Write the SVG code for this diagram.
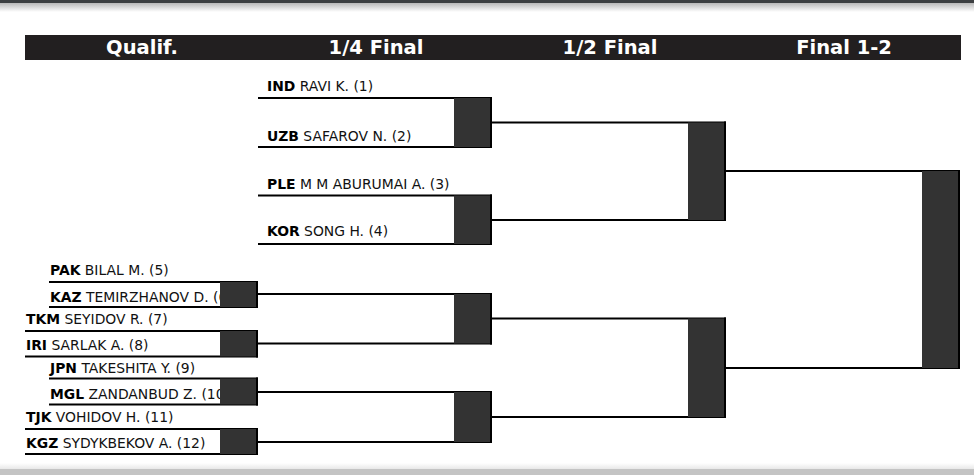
<svg xmlns="http://www.w3.org/2000/svg" width="974" height="475" viewBox="0 0 974 475">
<defs>
<linearGradient id="topShade" x1="0" y1="0" x2="0" y2="1">
<stop offset="0" stop-color="#b8b8b8"/>
<stop offset="1" stop-color="#ffffff"/>
</linearGradient>
<linearGradient id="botShade" x1="0" y1="0" x2="0" y2="1">
<stop offset="0" stop-color="#ffffff"/>
<stop offset="1" stop-color="#e8e8e8"/>
</linearGradient>
</defs>
<style>
.hdr{font-family:"DejaVu Sans",sans-serif;font-weight:bold;font-size:19.5px;fill:#ffffff;text-anchor:middle}
.nm{font-family:"DejaVu Sans",sans-serif;font-size:13.9px;fill:#111111}
.cc{font-weight:bold;fill:#000000}
.ln{stroke:#000000;stroke-width:2;fill:none}
.bx{fill:#333333}
</style>
<rect x="0" y="0" width="974" height="475" fill="#ffffff"/>
<rect x="0" y="0" width="974" height="3" fill="#3c3f41"/>
<rect x="0" y="3" width="974" height="9" fill="url(#topShade)"/>
<rect x="0" y="463" width="974" height="6" fill="url(#botShade)"/>
<rect x="0" y="469" width="974" height="6" fill="#c4c4c4"/>
<g id="header">
<rect x="25" y="35" width="936" height="25" fill="#221f20"/>
<text class="hdr" x="142" y="54">Qualif.</text>
<text class="hdr" x="376" y="54">1/4 Final</text>
<text class="hdr" x="610" y="54">1/2 Final</text>
<text class="hdr" x="844" y="54">Final 1-2</text>
</g>
<g id="labels">
<text class="nm" x="267" y="91"><tspan class="cc">IND</tspan> RAVI K. (1)</text>
<text class="nm" x="267" y="141"><tspan class="cc">UZB</tspan> SAFAROV N. (2)</text>
<text class="nm" x="267" y="188.5"><tspan class="cc">PLE</tspan> M M ABURUMAI A. (3)</text>
<text class="nm" x="267" y="236"><tspan class="cc">KOR</tspan> SONG H. (4)</text>
<text class="nm" x="50" y="275"><tspan class="cc">PAK</tspan> BILAL M. (5)</text>
<text class="nm" x="50" y="301.5"><tspan class="cc">KAZ</tspan> TEMIRZHANOV D. (6)</text>
<text class="nm" x="26" y="324"><tspan class="cc">TKM</tspan> SEYIDOV R. (7)</text>
<text class="nm" x="26" y="350"><tspan class="cc">IRI</tspan> SARLAK A. (8)</text>
<text class="nm" x="50" y="372.5"><tspan class="cc">JPN</tspan> TAKESHITA Y. (9)</text>
<text class="nm" x="50" y="399"><tspan class="cc">MGL</tspan> ZANDANBUD Z. (10)</text>
<text class="nm" x="26" y="421.5"><tspan class="cc">TJK</tspan> VOHIDOV H. (11)</text>
<text class="nm" x="26" y="448"><tspan class="cc">KGZ</tspan> SYDYKBEKOV A. (12)</text>
</g>
<g id="connectors">
<path class="ln" d="M258 98H492M258 147H492"/>
<path class="ln" d="M258 195.5H492M258 244H492"/>
<path class="ln" d="M49 282H258M49 307H258"/>
<path class="ln" d="M25 331H258M25 356.5H258"/>
<path class="ln" d="M49 378.5H258M49 404.5H258"/>
<path class="ln" d="M25 429H258M25 454H258"/>
<path class="ln" d="M258 294H492M258 343.5H492"/>
<path class="ln" d="M258 392H492M258 442H492"/>
<path class="ln" d="M492 122.5H726M492 220H726"/>
<path class="ln" d="M492 318.5H726M492 417H726"/>
<path class="ln" d="M726 171H960M726 368H960"/>
</g>
<g id="q1"><rect class="bx" x="220" y="282" width="37" height="25"/><path class="ln" d="M257 281V308"/></g>
<g id="q2"><rect class="bx" x="220" y="331" width="37" height="25.5"/><path class="ln" d="M257 330V357.5"/></g>
<g id="q3"><rect class="bx" x="220" y="378.5" width="37" height="26"/><path class="ln" d="M257 377.5V405.5"/></g>
<g id="q4"><rect class="bx" x="220" y="429" width="37" height="25"/><path class="ln" d="M257 428V455"/></g>
<g id="qf1"><rect class="bx" x="454" y="98" width="37" height="49"/><path class="ln" d="M491 97V148"/></g>
<g id="qf2"><rect class="bx" x="454" y="195.5" width="37" height="48.5"/><path class="ln" d="M491 194.5V245"/></g>
<g id="qf3"><rect class="bx" x="454" y="294" width="37" height="49.5"/><path class="ln" d="M491 293V344.5"/></g>
<g id="qf4"><rect class="bx" x="454" y="392" width="37" height="50"/><path class="ln" d="M491 391V443"/></g>
<g id="sf1"><rect class="bx" x="688" y="122.5" width="37" height="97.5"/><path class="ln" d="M725 121.5V221"/></g>
<g id="sf2"><rect class="bx" x="688" y="318.5" width="37" height="98.5"/><path class="ln" d="M725 317.5V418"/></g>
<g id="final"><rect class="bx" x="922" y="171" width="37" height="197"/><path class="ln" d="M959 170V369"/></g>
</svg>
